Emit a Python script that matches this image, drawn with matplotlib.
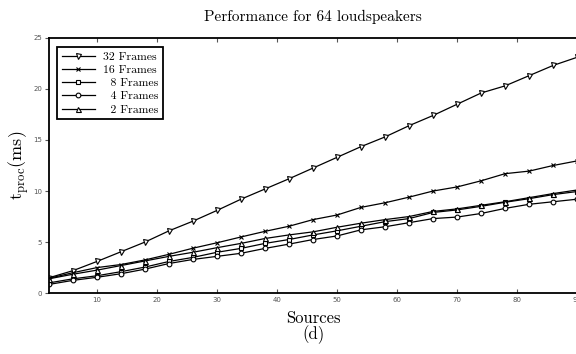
import matplotlib
matplotlib.use("Agg")
import matplotlib.pyplot as plt

plt.rcParams['mathtext.fontset'] = 'cm'

# Number of sources (x axis)
sources = [2, 6, 10, 14, 18, 22, 26, 30, 34, 38, 42, 46,
           50, 54, 58, 62, 66, 70, 74, 78, 82, 86, 90]

# processing time in ms for each frame size
t_32 = [1.5, 2.2, 3.1, 4.05, 5.0, 6.1, 7.05, 8.1, 9.2, 10.2, 11.2, 12.25,
        13.3, 14.35, 15.3, 16.4, 17.4, 18.5, 19.6, 20.3, 21.3, 22.3, 23.1]
t_16 = [1.45, 2.0, 2.5, 2.8, 3.25, 3.8, 4.4, 4.93, 5.5, 6.05, 6.55, 7.2,
        7.65, 8.4, 8.85, 9.4, 10.0, 10.4, 11.0, 11.7, 11.95, 12.5, 12.95]
t_8 = [1.0, 1.4, 1.7, 2.1, 2.55, 3.1, 3.5, 4.0, 4.38, 4.87, 5.25, 5.7,
       6.1, 6.55, 7.0, 7.3, 7.9, 8.15, 8.5, 8.9, 9.25, 9.65, 9.95]
t_4 = [0.85, 1.25, 1.55, 1.9, 2.35, 2.9, 3.3, 3.6, 3.9, 4.38, 4.8, 5.25,
       5.6, 6.2, 6.5, 6.9, 7.3, 7.45, 7.8, 8.3, 8.7, 8.95, 9.2]
t_2 = [1.4, 1.85, 2.25, 2.7, 3.15, 3.6, 4.0, 4.45, 4.87, 5.35, 5.7, 6.0,
       6.45, 6.85, 7.2, 7.5, 8.0, 8.25, 8.6, 8.95, 9.35, 9.75, 10.1]

series = [
    (t_32, 'v', 3.6, '32 Frames'),
    (t_16, 'x', 2.5, '16 Frames'),
    (t_8, 's', 3.2, '\u20078 Frames'),
    (t_4, 'o', 3.4, '\u20074 Frames'),
    (t_2, '^', 3.6, '\u20072 Frames'),
]

fig = plt.figure(figsize=(5.76, 3.54), dpi=100)
ax = fig.add_axes([0.085, 0.172, 0.917, 0.721])

for vals, mk, ms, lab in series:
    ax.plot(sources, vals, color='black', lw=0.9, marker=mk, markersize=ms,
            markerfacecolor='white', markeredgecolor='black', mew=0.8, label=lab)

ax.set_xlim(2, 90)
ax.set_ylim(0, 25)
ax.set_xticks(range(10, 91, 10))
ax.set_yticks(range(0, 26, 5))
ax.tick_params(axis='x', direction='in', top=True, length=3, width=0.8,
               labelsize=5, pad=3, colors='#555555')
ax.tick_params(axis='y', direction='out', length=3, width=0.8,
               labelsize=5, pad=2, colors='#555555')
for s in ax.spines.values():
    s.set_linewidth(1.3)

serif = ['cmr10', 'DejaVu Serif']
ax.set_title('Performance for 64 loudspeakers', fontsize=11, family=serif, pad=12)
ax.set_xlabel('Sources\n(d)', fontsize=12, family=serif, linespacing=1.0, labelpad=5)
ax.set_ylabel(r'$\mathrm{t_{proc}(ms)}$', fontsize=13, labelpad=1)

leg = ax.legend(loc='upper left', bbox_to_anchor=(0.015, 0.965), borderaxespad=0,
                fancybox=False, edgecolor='black', framealpha=1, handlelength=2.8,
                labelspacing=0.25, borderpad=0.4, handletextpad=0.7,
                prop={'family': serif, 'size': 8.5})
leg.get_frame().set_linewidth(1.3)

fig.savefig('out.png', dpi=100)
